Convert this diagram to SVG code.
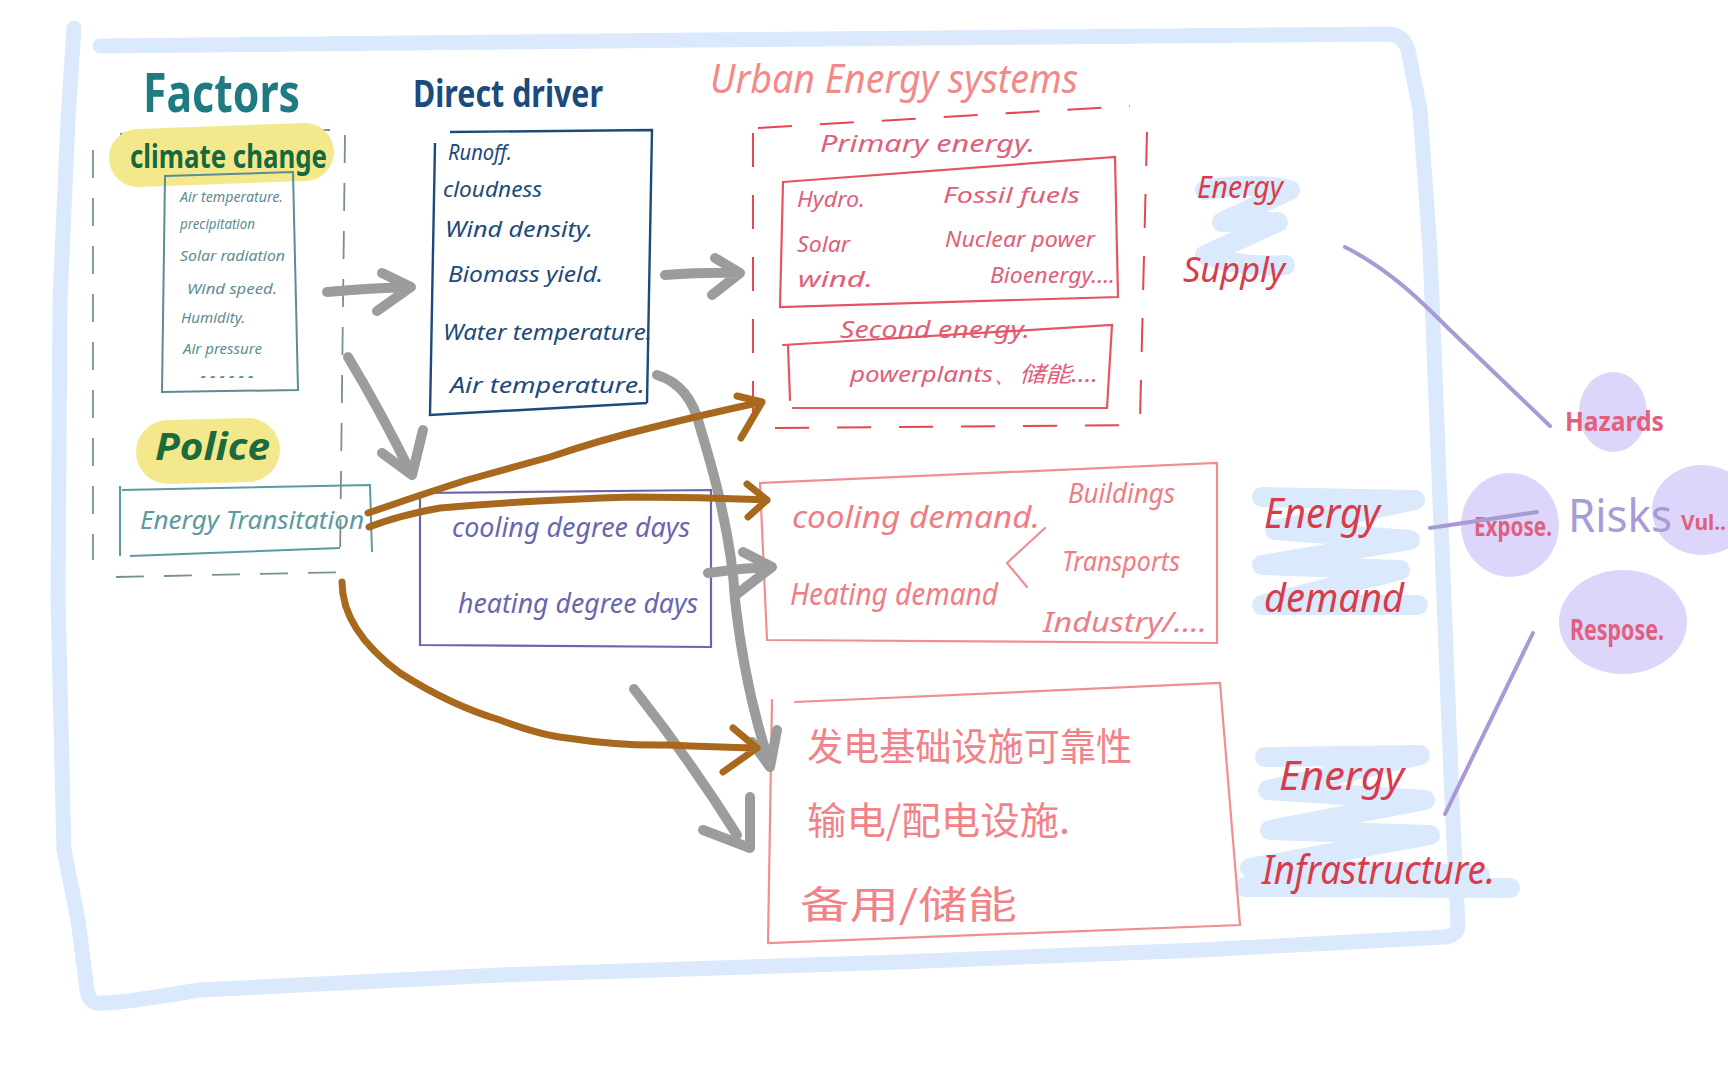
<svg xmlns="http://www.w3.org/2000/svg" width="1728" height="1080" viewBox="0 0 1728 1080">
<style>
.h{font-family:"Noto Sans","Liberation Sans",sans-serif;font-style:italic}
.cjk{font-family:"Noto Sans CJK SC","Noto Sans",sans-serif}
.b{font-weight:bold}
.gray{fill:none;stroke:#9c9c9c;stroke-width:10;stroke-linecap:round;stroke-linejoin:round}
.brown{fill:none;stroke:#a8681e;stroke-width:7;stroke-linecap:round;stroke-linejoin:round}
.purp{fill:none;stroke:#a99ad6;stroke-width:4;stroke-linecap:round}
.scrib{fill:none;stroke:#dae9fb;stroke-width:20;stroke-linecap:round;stroke-linejoin:round}
.red{fill:none;stroke:#e45560;stroke-width:2.2;stroke-linecap:round}
.salmon{fill:none;stroke:#f08e92;stroke-width:2.2;stroke-linecap:round}
.lav{fill:#ded5fb}
</style>
<rect width="1728" height="1080" fill="#ffffff"/>

<g id="frame">
<path d="M100 46 L700 40 L1390 34 Q1404 36 1408 50 L1420 110 L1430 250 L1440 500 L1452 800 L1458 925 Q1458 935 1445 937 L1200 950 L900 962 L500 975 L200 990 Q110 1005 96 1003 Q88 1000 87 990 L78 920 L64 850 L58 600 L60 300 L68 120 L74 28" fill="none" stroke="#dbe9fc" stroke-width="15" stroke-linecap="round" stroke-linejoin="round"/>
</g>

<g id="label-scribbles">
<path class="scrib" d="M1205 190 Q1250 182 1290 190 L1222 222 L1278 222 L1205 255 Q1240 268 1285 265"/>
<path class="scrib" d="M1262 497 L1415 500 L1275 530 L1410 540 L1262 565 L1400 570 L1262 605 L1418 605"/>
<path class="scrib" d="M1265 757 L1420 755 L1268 790 L1425 800 L1270 830 L1430 835 L1250 868 L1480 875 L1245 887 L1510 888"/>
</g>

<g id="factors">
<text class="h b" x="143" y="112" font-size="54" fill="#1f7a82" textLength="157" lengthAdjust="spacingAndGlyphs" style="font-style:normal">Factors</text>
<path d="M120 134 L330 130 M93 150 L93 560 M345 135 L340 560 M116 577 L353 572" fill="none" stroke="#7a8f92" stroke-width="1.8" stroke-dasharray="28 20"/>
</g>

<g id="climate-change">
<path d="M138 158 L305 152" stroke="#f3e98c" stroke-width="58" stroke-linecap="round" fill="none"/>
<text class="h b" x="130" y="168" font-size="32" fill="#17683f" textLength="197" lengthAdjust="spacingAndGlyphs" style="font-style:normal">climate change</text>
<path d="M165 176 L293 172 L298 390 L162 392 Z" fill="none" stroke="#5b8d93" stroke-width="2"/>
<g class="h" font-size="14" fill="#5b8d93">
<text x="180" y="202" textLength="103" lengthAdjust="spacingAndGlyphs">Air temperature.</text>
<text x="180" y="229" textLength="75" lengthAdjust="spacingAndGlyphs">precipitation</text>
<text x="180" y="261" textLength="105" lengthAdjust="spacingAndGlyphs">Solar radiation</text>
<text x="187" y="294" textLength="90" lengthAdjust="spacingAndGlyphs">Wind speed.</text>
<text x="181" y="323" textLength="64" lengthAdjust="spacingAndGlyphs">Humidity.</text>
<text x="183" y="354" textLength="79" lengthAdjust="spacingAndGlyphs">Air pressure</text>
<text x="200" y="378" textLength="57" lengthAdjust="spacingAndGlyphs">......</text>
</g>
</g>

<g id="police">
<path d="M168 452 L248 450" stroke="#f3e98c" stroke-width="64" stroke-linecap="round" fill="none"/>
<text class="h b" x="155" y="460" font-size="38" fill="#1b6b3e" textLength="115" lengthAdjust="spacingAndGlyphs">Police</text>
</g>

<g id="energy-transition">
<path d="M122 490 L370 485 L372 552 M120 486 L120 556 M130 556 L340 548" fill="none" stroke="#5b9aa0" stroke-width="2"/>
<text class="h" x="140" y="529" font-size="26" fill="#5b9aa0" textLength="224" lengthAdjust="spacingAndGlyphs">Energy  Transitation</text>
</g>

<g id="direct-driver">
<text class="h b" x="413" y="107" font-size="38" fill="#1b4a7c" textLength="190" lengthAdjust="spacingAndGlyphs" style="font-style:normal">Direct driver</text>
<path d="M450 132 L652 130 L647 403 M435 143 L430 415 L647 403" fill="none" stroke="#1b4a7c" stroke-width="2.4"/>
<g class="h" font-size="22" fill="#1b4a7c">
<text x="448" y="160" textLength="64" lengthAdjust="spacingAndGlyphs">Runoff.</text>
<text x="443" y="197" textLength="99" lengthAdjust="spacingAndGlyphs">cloudness</text>
<text x="445" y="237" textLength="148" lengthAdjust="spacingAndGlyphs">Wind density.</text>
<text x="448" y="282" textLength="155" lengthAdjust="spacingAndGlyphs">Biomass yield.</text>
<text x="443" y="340" textLength="209" lengthAdjust="spacingAndGlyphs">Water temperature.</text>
<text x="450" y="393" textLength="195" lengthAdjust="spacingAndGlyphs">Air temperature.</text>
</g>
</g>

<g id="urban-energy-systems">
<text class="h" x="710" y="93" font-size="40" fill="#f28a8a" textLength="368" lengthAdjust="spacingAndGlyphs">Urban Energy systems</text>
<path d="M758 128 L1130 106 M1147 132 L1140 420 M753 133 L753 425 M775 428 L1135 425" fill="none" stroke="#e4474e" stroke-width="2" stroke-dasharray="34 28"/>
</g>

<g id="primary-energy">
<text class="h" x="820" y="152" font-size="24" fill="#e0607a" textLength="215" lengthAdjust="spacingAndGlyphs">Primary   energy.</text>
<path class="red" d="M783 182 L1115 157 L1118 297 L780 307 Z"/>
<g class="h" font-size="22" fill="#e0607a">
<text x="797" y="207" textLength="68" lengthAdjust="spacingAndGlyphs">Hydro.</text>
<text x="943" y="203" textLength="137" lengthAdjust="spacingAndGlyphs">Fossil  fuels</text>
<text x="797" y="252" textLength="53" lengthAdjust="spacingAndGlyphs">Solar</text>
<text x="945" y="247" textLength="150" lengthAdjust="spacingAndGlyphs">Nuclear  power</text>
<text x="798" y="287" textLength="75" lengthAdjust="spacingAndGlyphs">wind.</text>
<text x="990" y="283" textLength="125" lengthAdjust="spacingAndGlyphs">Bioenergy....</text>
</g>
</g>

<g id="second-energy">
<text class="h" x="840" y="338" font-size="24" fill="#e0607a" textLength="190" lengthAdjust="spacingAndGlyphs">Second  energy.</text>
<path class="red" d="M783 345 L1112 325 L1107 408 L793 408 M788 345 L790 400"/>
<text class="h" x="850" y="382" font-size="22" fill="#e0607a" textLength="248" lengthAdjust="spacingAndGlyphs">powerplants、<tspan class="cjk">储能</tspan>....</text>
</g>

<g id="degree-days">
<path d="M420 493 L711 490 L711 647 L420 645 Z" fill="none" stroke="#6a66ae" stroke-width="2.2"/>
<g class="h" font-size="28" fill="#6a66ae">
<text x="452" y="537" textLength="238" lengthAdjust="spacingAndGlyphs">cooling degree days</text>
<text x="458" y="613" textLength="240" lengthAdjust="spacingAndGlyphs">heating degree days</text>
</g>
</g>

<g id="energy-demand-box">
<path class="salmon" d="M760 483 L1217 463 L1217 643 L767 640 Z"/>
<path class="salmon" d="M1045 528 L1007 563 L1027 587"/>
<g class="h" font-size="30" fill="#ee7d85">
<text x="792" y="528" textLength="248" lengthAdjust="spacingAndGlyphs">cooling  demand.</text>
<text x="790" y="605" textLength="208" lengthAdjust="spacingAndGlyphs">Heating  demand</text>
<text x="1068" y="503" font-size="28" textLength="107" lengthAdjust="spacingAndGlyphs">Buildings</text>
<text x="1062" y="571" font-size="28" textLength="118" lengthAdjust="spacingAndGlyphs">Transports</text>
<text x="1043" y="632" font-size="28" textLength="164" lengthAdjust="spacingAndGlyphs">Industry/....</text>
</g>
</g>

<g id="infrastructure-box">
<path class="salmon" d="M795 702 L1220 683 L1240 925 L768 943 L772 700"/>
<g class="cjk" font-size="38" fill="#f08288">
<text x="807" y="760" textLength="325" lengthAdjust="spacingAndGlyphs">发电基础设施可靠性</text>
<text x="807" y="834" textLength="263" lengthAdjust="spacingAndGlyphs">输电/配电设施.</text>
<text x="800" y="918" textLength="217" lengthAdjust="spacingAndGlyphs">备用/储能</text>
</g>
</g>

<g id="energy-supply-label" class="h" fill="#d83b4b">
<text x="1197" y="198" font-size="30" textLength="86" lengthAdjust="spacingAndGlyphs">Energy</text>
<text x="1183" y="282" font-size="34" textLength="102" lengthAdjust="spacingAndGlyphs">Supply</text>
</g>

<g id="energy-demand-label" class="h" fill="#d83b4b">
<text x="1264" y="528" font-size="42" textLength="116" lengthAdjust="spacingAndGlyphs">Energy</text>
<text x="1264" y="612" font-size="40" textLength="140" lengthAdjust="spacingAndGlyphs">demand</text>
</g>

<g id="energy-infrastructure-label" class="h" fill="#d83b4b">
<text x="1279" y="790" font-size="40" textLength="125" lengthAdjust="spacingAndGlyphs">Energy</text>
<text x="1262" y="884" font-size="40" textLength="233" lengthAdjust="spacingAndGlyphs">Infrastructure.</text>
</g>

<g id="hazards">
<ellipse class="lav" cx="1613" cy="412" rx="34" ry="40"/>
<text class="h b" x="1565" y="431" font-size="27" fill="#e0607e" textLength="99" lengthAdjust="spacingAndGlyphs" style="font-style:normal">Hazards</text>
</g>
<g id="expose">
<ellipse class="lav" cx="1510" cy="525" rx="49" ry="52"/>
<text class="h b" x="1474" y="536" font-size="27" fill="#e0607e" textLength="78" lengthAdjust="spacingAndGlyphs" style="font-style:normal">Expose.</text>
</g>
<g id="vulnerability">
<ellipse class="lav" cx="1702" cy="510" rx="50" ry="45"/>
<text class="h b" x="1681" y="530" font-size="22" fill="#e0607e" textLength="45" lengthAdjust="spacingAndGlyphs" style="font-style:normal">Vul..</text>
</g>
<g id="response">
<ellipse class="lav" cx="1623" cy="622" rx="64" ry="52"/>
<text class="h b" x="1570" y="640" font-size="28" fill="#e0607e" textLength="94" lengthAdjust="spacingAndGlyphs" style="font-style:normal">Respose.</text>
</g>
<g id="risks">
<text x="1568" y="532" font-family="Noto Sans, Liberation Sans, sans-serif" font-size="46" fill="#a99bd3" textLength="104" lengthAdjust="spacingAndGlyphs">Risks</text>
</g>

<g id="connectors">
<path class="gray" d="M327 292 Q370 288 411 287 M382 273 L411 287 L377 311"/>
<path class="gray" d="M665 275 Q705 272 740 273 M715 258 L740 273 L712 295"/>
<path class="gray" d="M348 357 Q380 410 412 475 M382 453 L412 475 L423 430"/>
<path class="gray" d="M657 375 Q690 385 700 427 Q716 480 722 510 Q733 560 735 600 Q745 690 770 765 M777 730 L770 767 L752 742"/>
<path class="gray" d="M708 573 Q740 568 772 567 M743 552 L772 567 L737 594"/>
<path class="gray" d="M634 689 Q690 760 737 835 M750 797 L750 848 L703 830"/>
<path class="brown" d="M368 513 Q420 495 467 480 Q510 468 550 457 Q600 440 650 428 Q710 413 762 402 M737 396 L762 402 L741 438"/>
<path class="brown" d="M369 527 Q400 515 440 508 Q530 500 633 497 Q700 497 767 500 M747 484 L767 500 L748 517"/>
<path class="brown" d="M342 582 Q342 630 400 673 Q450 705 500 720 Q540 735 567 738 Q620 746 667 745 Q715 747 757 748 M733 728 L757 748 L723 772"/>
<path class="purp" d="M1345 247 C1390 270 1420 300 1450 330 L1550 426"/>
<path class="purp" d="M1430 528 L1537 512"/>
<path class="purp" d="M1445 814 L1533 633"/>
</g>
</svg>
